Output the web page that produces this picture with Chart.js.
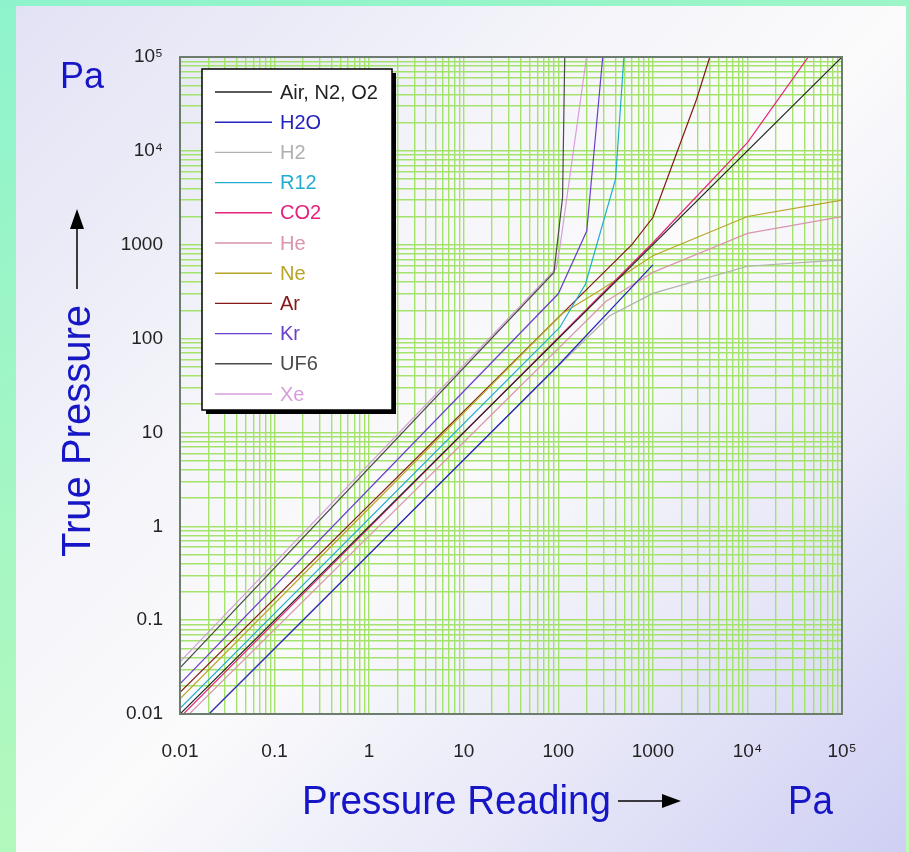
<!DOCTYPE html>
<html>
<head>
<meta charset="utf-8">
<script src="https://cdn.jsdelivr.net/npm/chart.js@4.4.1/dist/chart.umd.min.js"></script>
<style>
  html, body { margin: 0; padding: 0; }
  body {
    width: 909px; height: 852px; overflow: hidden; position: relative;
    background: linear-gradient(160deg, #8ef3cc 0%, #a8f7c2 50%, #bffbb6 100%);
    font-family: "Liberation Sans", Arial, sans-serif;
  }
  .panel {
    position: absolute; left: 16px; top: 6px; width: 890px; height: 846px;
    background: linear-gradient(135deg, #e2e2f5 0%, #f5f5fa 35%, #fbfbfc 52%, #e8e8f8 75%, #cfcff4 100%);
  }
  canvas { position: absolute; left: 0; top: 0; }
</style>
</head>
<body>
<div class="panel"></div>
<canvas id="chart" width="909" height="852"></canvas>
<script>
// Axis decades and their tick labels
const decades = [0.01, 0.1, 1, 10, 100, 1000, 1e4, 1e5];
const tickLabels = ['0.01', '0.1', '1', '10', '100', '1000', '10\u2074', '10\u2075'];

// Gas names and colours (legend order)
const gasNames = ['Air, N2, O2', 'H2O', 'H2', 'R12', 'CO2', 'He', 'Ne', 'Ar', 'Kr', 'UF6', 'Xe'];
const gasColors = ['#222222', '#2424bc', '#b0b0b0', '#22acd0', '#e6237a', '#d994ae',
                   '#b8a426', '#861818', '#6a3ecc', '#4a4a4a', '#d79edb'];

// Pressure reading (x) vs true pressure (y), Pa
const airX = [0.01, 1e5];
const airY = [0.01, 1e5];
const h2oX = [0.01, 100, 1000];
const h2oY = [0.0049, 52, 610];
const h2X = [0.01, 100, 350, 1000, 1e4, 1e5];
const h2Y = [0.005, 51, 175, 303, 590, 690];
const r12X = [0.01, 104, 194, 403, 494];
const r12Y = [0.0115, 132, 382, 5000, 1e5];
const co2X = [0.01, 1000, 1e4, 44000];
const co2Y = [0.0092, 1050, 12250, 1e5];
const heX = [0.01, 320, 1000, 1e4, 1e5];
const heY = [0.008, 250, 507, 1320, 1990];
const neX = [0.01, 110, 280, 1000, 1e4, 1e5];
const neY = [0.0145, 185, 330, 764, 2000, 2990];
const arX = [0.01, 600, 1000, 2900, 4000];
const arY = [0.017, 1000, 1950, 35500, 1e5];
const krX = [0.01, 100, 200, 295];
const krY = [0.021, 300, 1400, 1e5];
const uf6X = [0.01, 90, 111, 117];
const uf6Y = [0.031, 507, 3200, 1e5];
const xeX = [0.01, 95, 104, 199];
const xeY = [0.036, 560, 936, 1e5];

const seriesX = [airX, h2oX, h2X, r12X, co2X, heX, neX, arX, krX, uf6X, xeX];
const seriesY = [airY, h2oY, h2Y, r12Y, co2Y, heY, neY, arY, krY, uf6Y, xeY];

const BLUE = '#1616c6';
const FONT = '"Liberation Sans", Arial, sans-serif';

// log grid: 1..9 in every decade
function logTicks(scale) {
  const ticks = [];
  decades.forEach((d, i) => {
    if (i === decades.length - 1) { ticks.push({ value: d }); return; }
    for (let m = 1; m <= 9; m++) ticks.push({ value: m === 1 ? d : d * m });
  });
  scale.ticks = ticks;
}
const decadeLabel = (v) => {
  const i = decades.indexOf(v);
  return i >= 0 ? tickLabels[i] : '';
};

const datasets = gasNames.map((name, i) => ({
  label: name,
  data: seriesX[i].map((x, j) => ({ x, y: seriesY[i][j] })),
  borderColor: gasColors[i],
  backgroundColor: gasColors[i],
  borderWidth: 1.2,
  pointRadius: 0,
  tension: 0,
  fill: false
}));

// draw text squeezed a little horizontally (the original title face is narrow)
function narrowText(ctx, text, x, y, sx) {
  ctx.save();
  ctx.translate(x, y);
  ctx.scale(sx, 1);
  ctx.fillText(text, 0, 0);
  ctx.restore();
}

// frame, legend box and axis titles
const decor = {
  id: 'decor',
  afterDatasetsDraw(chart) {
    const { ctx, chartArea: a } = chart;
    ctx.save();
    ctx.strokeStyle = '#6d7d6d';
    ctx.lineWidth = 2;
    ctx.strokeRect(a.left, a.top, a.right - a.left, a.bottom - a.top);
    ctx.restore();
  },
  afterDraw(chart) {
    const ctx = chart.ctx;
    ctx.save();

    // legend
    const bx = 202, by = 69, bw = 190, bh = 341;
    ctx.fillStyle = '#000';
    ctx.fillRect(bx + 4, by + 4, bw, bh);
    ctx.fillStyle = '#fff';
    ctx.fillRect(bx, by, bw, bh);
    ctx.strokeStyle = '#000';
    ctx.lineWidth = 1.5;
    ctx.strokeRect(bx, by, bw, bh);
    ctx.font = '20px ' + FONT;
    ctx.textBaseline = 'middle';
    ctx.textAlign = 'left';
    chart.data.datasets.forEach((ds, i) => {
      const y = 92 + i * 30.2;
      ctx.strokeStyle = ds.borderColor;
      ctx.lineWidth = 1.4;
      ctx.beginPath();
      ctx.moveTo(215, y);
      ctx.lineTo(272, y);
      ctx.stroke();
      ctx.fillStyle = ds.borderColor;
      ctx.fillText(ds.label, 280, y + 1);
    });

    // axis titles
    ctx.fillStyle = BLUE;
    ctx.textBaseline = 'alphabetic';
    ctx.font = '36px ' + FONT;
    ctx.fillText('Pa', 60, 88);
    ctx.font = '40px ' + FONT;
    narrowText(ctx, 'Pa', 788, 814, 0.92);
    narrowText(ctx, 'Pressure Reading', 302, 814, 0.965);

    ctx.save();
    ctx.translate(90, 431);
    ctx.rotate(-Math.PI / 2);
    ctx.textAlign = 'center';
    ctx.fillText('True Pressure', 0, 0);
    ctx.restore();

    // arrows
    ctx.strokeStyle = '#000';
    ctx.fillStyle = '#000';
    ctx.lineWidth = 1.5;
    ctx.beginPath();
    ctx.moveTo(618, 801); ctx.lineTo(664, 801); ctx.stroke();
    ctx.beginPath();
    ctx.moveTo(662, 794); ctx.lineTo(681, 801); ctx.lineTo(662, 808); ctx.closePath(); ctx.fill();

    ctx.beginPath();
    ctx.moveTo(77, 289); ctx.lineTo(77, 226); ctx.stroke();
    ctx.beginPath();
    ctx.moveTo(70, 229); ctx.lineTo(77, 209); ctx.lineTo(84, 229); ctx.closePath(); ctx.fill();

    ctx.restore();
  }
};

new Chart(document.getElementById('chart'), {
  type: 'line',
  data: { datasets },
  options: {
    responsive: false,
    animation: false,
    devicePixelRatio: 1,
    layout: { padding: { left: 100, right: 67, top: 57, bottom: 80 } },
    plugins: { legend: { display: false }, tooltip: { enabled: false } },
    scales: {
      x: {
        type: 'logarithmic',
        min: 0.01,
        max: 1e5,
        afterBuildTicks: logTicks,
        afterFit: (s) => { s.height = 58; },
        grid: { color: '#a3e36c', lineWidth: 1.4, drawTicks: false },
        border: { display: false },
        ticks: {
          autoSkip: false, maxRotation: 0, minRotation: 0, padding: 26,
          color: '#222', font: { family: FONT, size: 19 },
          callback: decadeLabel
        }
      },
      y: {
        type: 'logarithmic',
        min: 0.01,
        max: 1e5,
        afterBuildTicks: logTicks,
        afterFit: (s) => { s.width = 80; },
        grid: { color: '#a3e36c', lineWidth: 1.4, drawTicks: false },
        border: { display: false },
        ticks: {
          autoSkip: false, padding: 17,
          color: '#222', font: { family: FONT, size: 19 },
          callback: decadeLabel
        }
      }
    }
  },
  plugins: [decor]
});
</script>
</body>
</html>
